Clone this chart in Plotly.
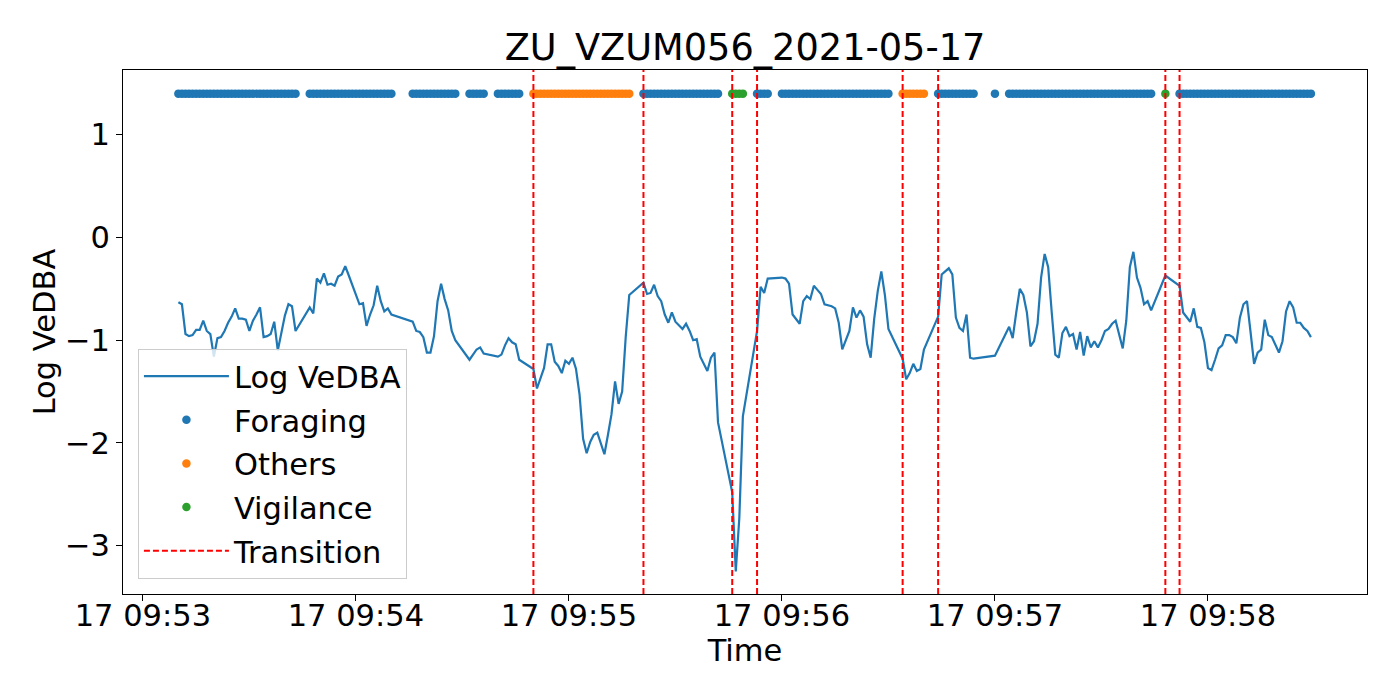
import pandas as pd
import plotly.graph_objects as go

day_start = pd.Timestamp("2021-05-17 09:53:00")

# seconds after 09:53:00 and the Log VeDBA value at each sample
seconds = [
    10, 11, 12, 13, 14, 15, 16, 17, 18, 19, 20, 21, 22, 23, 24, 25, 26, 27, 28, 29,
    30, 31, 32, 33, 34, 35, 36, 37, 38, 39, 40, 41, 42, 43,
    47, 48, 49, 50, 51, 52, 53, 54, 55, 56, 57, 58, 59, 60, 61, 62, 63, 64, 65, 66,
    67, 68, 69, 70,
    76, 77, 78, 79, 80, 81, 82, 83, 84, 85, 86, 87, 88,
    92, 93, 94, 95, 96,
    100, 101, 102, 103, 104, 105, 106,
    110, 111, 112, 113, 114, 115, 116, 117, 118, 119, 120, 121, 122, 123, 124, 125,
    126, 127, 128, 129, 130, 131, 132, 133, 134, 135, 136, 137,
    141, 142, 143, 144, 145, 146, 147, 148, 149, 150, 151, 152, 153, 154, 155, 156,
    157, 158, 159, 160, 161, 162,
    166, 167, 168, 169,
    173, 174, 175, 176,
    180, 181, 182, 183, 184, 185, 186, 187, 188, 189, 190, 191, 192, 193, 194, 195,
    196, 197, 198, 199, 200, 201, 202, 203, 204, 205, 206, 207, 208, 209, 210,
    214, 215, 216, 217, 218, 219, 220,
    224, 225, 226, 227, 228, 229, 230, 231, 232, 233, 234,
    240,
    244, 245, 246, 247, 248, 249, 250, 251, 252, 253, 254, 255, 256, 257, 258, 259,
    260, 261, 262, 263, 264, 265, 266, 267, 268, 269, 270, 271, 272, 273, 274, 275,
    276, 277, 278, 279, 280, 281, 282, 283, 284,
    288,
    292, 293, 294, 295, 296, 297, 298, 299, 300, 301, 302, 303, 304, 305, 306, 307,
    308, 309, 310, 311, 312, 313, 314, 315, 316, 317, 318, 319, 320, 321, 322, 323,
    324, 325, 326, 327, 328, 329,
]

log_vedba = [
    -0.63, -0.65, -0.94, -0.96, -0.95, -0.90, -0.90, -0.81, -0.91, -0.94, -1.16, -0.98, -0.97, -0.91, -0.83, -0.77, -0.69, -0.79, -0.79, -0.80,
    -0.91, -0.81, -0.75, -0.68, -0.97, -0.96, -0.94, -0.82, -1.10, -0.92, -0.76, -0.65, -0.67, -0.91,
    -0.68, -0.74, -0.40, -0.44, -0.35, -0.46, -0.45, -0.47, -0.38, -0.36, -0.28, -0.37, -0.47, -0.55, -0.65, -0.64, -0.86, -0.75, -0.66, -0.47,
    -0.62, -0.72, -0.69, -0.75,
    -0.82, -0.91, -0.92, -0.97, -1.12, -1.12, -0.96, -0.62, -0.45, -0.60, -0.71, -0.91, -1.00,
    -1.19, -1.14, -1.09, -1.07, -1.13,
    -1.16, -1.14, -1.05, -0.98, -1.02, -1.04, -1.19,
    -1.28, -1.47, -1.36, -1.27, -1.04, -1.04, -1.21, -1.25, -1.32, -1.20, -1.23, -1.17, -1.28, -1.53, -1.96, -2.10,
    -1.99, -1.92, -1.90, -2.01, -2.11, -1.92, -1.72, -1.40, -1.62, -1.50, -0.97, -0.56,
    -0.44, -0.55, -0.54, -0.46, -0.57, -0.62, -0.75, -0.83, -0.73, -0.82, -0.86, -0.89, -0.84, -0.91, -1.00, -0.99,
    -1.16, -1.23, -1.30, -1.17, -1.12, -1.80,
    -2.48, -3.25, -2.73, -1.74,
    -0.91, -0.48, -0.54, -0.40,
    -0.39, -0.40, -0.45, -0.75, -0.80, -0.84, -0.62, -0.57, -0.60, -0.47, -0.51, -0.55, -0.65, -0.66, -0.67, -0.69,
    -0.83, -1.09, -1.00, -0.91, -0.68, -0.78, -0.71, -0.77, -1.04, -1.17, -0.79, -0.52, -0.33, -0.56, -0.89,
    -1.18, -1.38, -1.32, -1.23, -1.30, -1.28, -1.09,
    -0.77, -0.36, -0.33, -0.30, -0.36, -0.78, -0.88, -0.91, -0.75, -1.17, -1.18,
    -1.15,
    -0.87, -0.98, -0.73, -0.50, -0.56, -0.73, -1.06, -1.01, -0.84, -0.39, -0.16, -0.29, -0.73, -1.14, -1.17, -0.93,
    -0.87, -0.96, -0.94, -1.09, -0.92, -1.15, -0.96, -1.07, -1.01, -1.07, -1.00, -0.91, -0.89, -0.84, -0.81, -0.96,
    -1.08, -0.81, -0.29, -0.14, -0.39, -0.49, -0.65, -0.62, -0.71,
    -0.37,
    -0.47, -0.73, -0.78, -0.82, -0.69, -0.87, -0.88, -1.02, -1.27, -1.29, -1.19, -1.08, -1.05, -0.95, -0.95, -0.97,
    -1.03, -0.78, -0.65, -0.62, -0.92, -1.23, -1.12, -1.09, -0.80, -0.95, -0.97, -1.04, -1.12, -1.01, -0.72, -0.62,
    -0.68, -0.83, -0.83, -0.88, -0.91, -0.97,
]

# behaviour runs (first second, last second, label)
behaviour_runs = [
    (10, 106, "Foraging"),
    (110, 137, "Others"),
    (141, 162, "Foraging"),
    (166, 169, "Vigilance"),
    (173, 210, "Foraging"),
    (214, 220, "Others"),
    (224, 284, "Foraging"),
    (288, 288, "Vigilance"),
    (292, 329, "Foraging"),
]

# seconds where the behaviour changes
transitions = [110, 141, 166, 173, 214, 224, 288, 292]

behaviours = ["Foraging", "Others", "Vigilance"]
colours = {"Foraging": "#1f77b4", "Others": "#ff7f0e", "Vigilance": "#2ca02c"}
behaviour_level = 1.4
y_range = [-3.47, 1.63]


def label_for(s):
    for a, b, lab in behaviour_runs:
        if a <= s <= b:
            return lab
    return None


df = pd.DataFrame({"sec": seconds, "vedba": log_vedba})
df["time"] = day_start + pd.to_timedelta(df["sec"], unit="s")
df["behaviour"] = [label_for(s) for s in df["sec"]]

fig = go.Figure()
fig.add_trace(go.Scatter(
    x=df["time"], y=df["vedba"], mode="lines", name="Log VeDBA",
    line=dict(color="#1f77b4", width=2.2), legendgroup="a",
))

for b in behaviours:
    sub = df[df["behaviour"] == b]
    fig.add_trace(go.Scatter(
        x=sub["time"], y=[behaviour_level] * len(sub), mode="markers", name=b,
        marker=dict(color=colours[b], size=8.5), legendgroup=b,
    ))

tx, ty = [], []
for s in transitions:
    t = day_start + pd.Timedelta(seconds=s)
    tx += [t, t, None]
    ty += [y_range[0], y_range[1], None]
fig.add_trace(go.Scatter(
    x=tx, y=ty, mode="lines", name="Transition",
    line=dict(color="#ff0000", width=2, dash="6px,3px"), legendgroup="t",
))

axis_style = dict(
    showline=True, mirror=True, linecolor="black", linewidth=1,
    ticks="outside", ticklen=6, tickwidth=1, tickcolor="black",
    showgrid=False, zeroline=False, automargin=False,
    tickfont=dict(size=30.5),
)

# page body adds ~8px offset, so the figure is sized a bit smaller
fig.update_layout(
    width=1392, height=692,
    margin=dict(l=115, r=33, t=62, b=106),
    paper_bgcolor="white", plot_bgcolor="white",
    font=dict(family="DejaVu Sans", size=30.5, color="black"),
    title=dict(text="ZU_VZUM056_2021-05-17", x=0.5, xref="paper", xanchor="center",
               y=0.943, yref="container", yanchor="middle",
               font=dict(size=36.7)),
    legend=dict(x=0.012, y=0.029, xanchor="left", yanchor="bottom",
                bgcolor="rgba(255,255,255,0.8)", bordercolor="#cccccc", borderwidth=1,
                font=dict(size=30.5), tracegroupgap=1, itemwidth=85),
    showlegend=True,
)
fig.update_xaxes(
    axis_style, type="date",
    range=[day_start - pd.Timedelta(seconds=5.6), day_start + pd.Timedelta(seconds=344.8)],
    tick0=day_start, dtick=60000, tickformat="%d %H:%M",
    ticklabelstandoff=-12,
    title=dict(text="Time", standoff=4, font=dict(size=30.5)),
)
fig.update_yaxes(
    axis_style, range=y_range, dtick=1,
    title=dict(text="Log VeDBA", standoff=0, font=dict(size=30.5)),
)

fig.write_html("out.html")
